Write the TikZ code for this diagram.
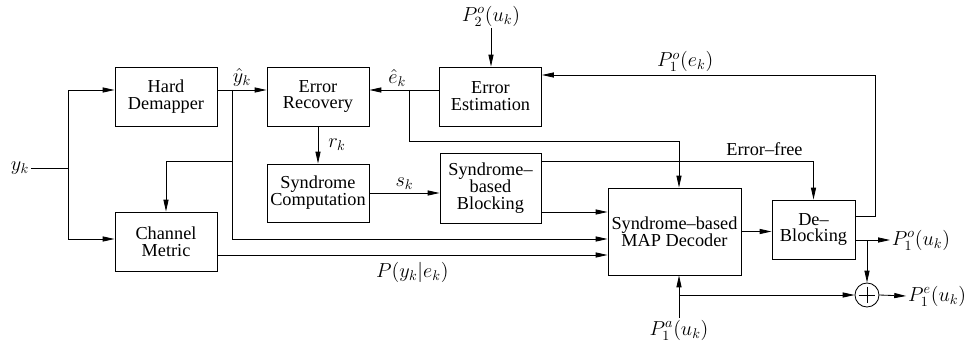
\documentclass[tikz,border=0pt]{standalone}
\usepackage{fontspec}
\setmainfont{Liberation Serif}
\usetikzlibrary{arrows.meta,positioning}

\begin{document}
\begin{tikzpicture}[
  x=0.025cm, y=-0.025cm, line width=0.6pt,
  blk/.style={draw, align=center, minimum width=2.55cm, minimum height=1.475cm,
              inner sep=1pt, font=\fontsize{13}{12}\selectfont},
  sig/.style={inner sep=1pt, font=\fontsize{14}{16}\selectfont},
  arr/.style={-{Triangle[length=8.5pt,width=3.6pt]}}
]
  \useasboundingbox (0,0) rectangle (966,348);

  % blocks
  \node[blk] (HD)  at (166,96.5)  {Hard\\Demapper};
  \node[blk] (ER)  at (318,96.5)  {Error\\Recovery};
  \node[blk] (EE)  at (490.5,96.5){Error\\Estimation};
  \node[blk, minimum height=1.45cm] (SC) at (318,193) {Syndrome\\Computation};
  \node[blk, minimum width=2.525cm, minimum height=1.75cm] (SB) at (490.5,188)
       {Syndrome--\\based\\Blocking};
  \node[blk] (CM)  at (166,241.5) {Channel\\Metric};
  \node[blk, minimum width=3.325cm, minimum height=2.175cm] (MAP) at (674.5,231.5)
       {Syndrome--based\\MAP Decoder};
  \node[blk, minimum width=2.075cm] (DB) at (813.5,229.5) {De--\\Blocking};
  \node[draw, circle, minimum size=0.6cm, inner sep=0pt] (SUM) at (867,295) {};
  \draw ([yshift=6pt]SUM.center) -- ([yshift=-6pt]SUM.center)
        ([xshift=-6pt]SUM.center) -- ([xshift=6pt]SUM.center);

  % signals
  \node[sig] (yk)  at (20,168)  {$y_k$};
  \node[sig] (P2)  at (491,16)  {$P_2^o(u_k)$};
  \node[sig] (P1o) at (921,240) {$P_1^o(u_k)$};
  \node[sig] (P1e) at (937,296) {$P_1^e(u_k)$};
  \node[sig] (P1a) at (679,330) {$P_1^a(u_k)$};

  % branch points and corners
  \coordinate (ysp)  at (68,168);
  \coordinate (yhsp) at (232,90);
  \coordinate (ylow) at (232,239);
  \coordinate (cmc)  at (232,161);
  \coordinate (ehsp) at (409,90);
  \coordinate (ehc)  at (679,141);
  \coordinate (efc)  at (812,161);
  \coordinate (sbo)  at (541,212);
  \coordinate (cmo)  at (217,255);
  \coordinate (fbb)  at (875,216);
  \coordinate (fbt)  at (875,75);
  \coordinate (osp)  at (867,240);
  \coordinate (asp)  at (679,295);

  % connectors
  \draw (yk) -- (ysp);
  \draw[arr] (ysp) |- (HD.west |- yhsp);
  \draw[arr] (ysp) |- (CM.west |- ylow);
  \draw[arr] (HD.east |- yhsp) -- (ER.west |- yhsp)
    node[sig, pos=0.5, above=1pt] {$\hat{y}_k$};
  \draw[arr] (cmc) -| (CM.north);
  \draw[arr] (yhsp) -- (ylow) -- (ylow -| MAP.west);
  \draw[arr] (EE.west |- ehsp) -- (ER.east |- ehsp)
    node[sig, pos=0.6, above=1pt] {$\hat{e}_k$};
  \draw[arr] (ehsp) |- (ehc) -- (ehc |- MAP.north);
  \draw[arr] (ER) -- node[sig, right=6pt] {$r_k$} (SC);
  \draw[arr] (SC.east) -- (SC.east -| SB.west)
    node[sig, midway, above=1pt] {$s_k$};
  \draw[arr] (sbo) -- (sbo -| MAP.west);
  \draw[arr] (SB.east |- efc) -| (DB.north)
    node[pos=0.41, above, font=\fontsize{13}{12}\selectfont] {Error--free};
  \draw[arr] (cmo) -- (cmo -| MAP.west)
    node[sig, midway, below=4pt] {$P(y_k|e_k)$};
  \draw[arr] (MAP.east) -- (MAP.east -| DB.west);
  \draw[arr] (DB.east |- fbb) -- (fbb) -- (fbt) -- (fbt -| EE.east)
    node[sig, pos=0.57, above=1pt] {$P_1^o(e_k)$};
  \draw[arr] (DB.east |- osp) -- (P1o.west);
  \draw[arr] (osp) -- (SUM.north);
  \draw[arr] (SUM.east) -- (P1e.west);
  \draw[arr] (P1a.north) -- (P1a.north |- MAP.south);
  \draw[arr] (asp) -- (SUM.west);
  \draw[arr] (P2.south) -- (P2.south |- EE.north);
\end{tikzpicture}
\end{document}
